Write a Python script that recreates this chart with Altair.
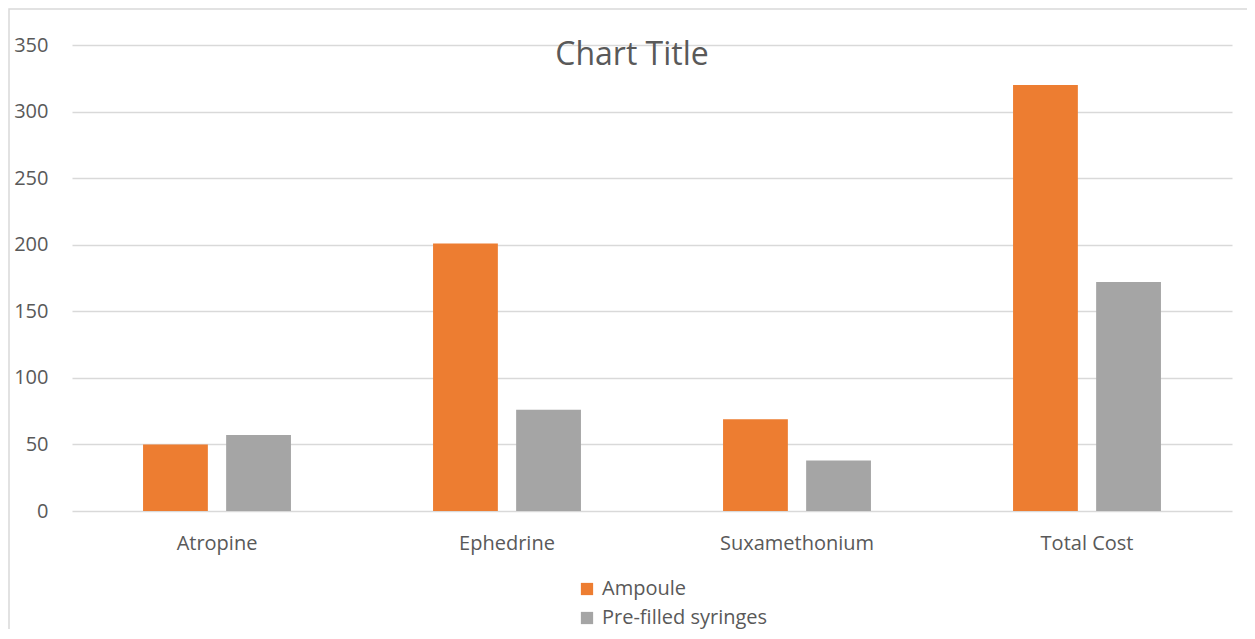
import altair as alt
import pandas as pd

categories = ["Atropine", "Ephedrine", "Suxamethonium", "Total Cost"]
series = ["Ampoule", "Pre-filled syringes"]
ampoule = [50, 201, 69, 320]
prefilled = [57, 76, 38, 172]
colors = ["#ED7D31", "#A5A5A5"]
y_ticks = [0, 50, 100, 150, 200, 250, 300, 350]
title_text = "Chart Title"

rows = []
for c, a, p in zip(categories, ampoule, prefilled):
    rows.append({"category": c, "series": series[0], "value": a})
    rows.append({"category": c, "series": series[1], "value": p})
df = pd.DataFrame(rows)

FONT = "Open Sans"
TXT = "#595959"
GRID = "#d9d9d9"

bars = alt.Chart(df).mark_bar().encode(
    x=alt.X("category:N", sort=categories,
            scale=alt.Scale(paddingInner=0.49, paddingOuter=0.245),
            axis=alt.Axis(title=None, labelAngle=0, ticks=False, tickSize=0,
                          domain=False, labelPadding=22, labelFontSize=20,
                          labelColor=TXT, labelFont=FONT, grid=False)),
    xOffset=alt.XOffset("series:N", sort=series,
                        scale=alt.Scale(paddingInner=0.22, paddingOuter=0)),
    y=alt.Y("value:Q", scale=alt.Scale(domain=[0, 350], nice=False),
            axis=alt.Axis(title=None, values=y_ticks, ticks=False, tickSize=0,
                          domain=False, labelPadding=24, labelFontSize=20,
                          labelColor=TXT, labelFont=FONT, grid=True,
                          gridColor=GRID, gridWidth=1.5)),
    color=alt.Color("series:N", sort=series,
                    scale=alt.Scale(domain=series, range=colors),
                    legend=alt.Legend(title=None, orient="none", legendX=505,
                                      legendY=534, direction="vertical",
                                      symbolType="square", symbolSize=150,
                                      symbolStrokeWidth=0, labelFontSize=20,
                                      labelFont=FONT, labelColor=TXT,
                                      labelOffset=5, rowPadding=9, padding=0,
                                      labelLimit=400)),
)

title_df = pd.DataFrame({"t": [title_text]})
title = alt.Chart(title_df).mark_text(
    font=FONT, fontSize=32, color=TXT, align="center", baseline="middle"
).encode(x=alt.value(560), y=alt.value(10), text="t:N")

border_df = pd.DataFrame({"b": [1]})
border = alt.Chart(border_df).mark_rect(
    fill="transparent", stroke=GRID, strokeWidth=1.5
).encode(x=alt.value(-63), x2=alt.value(1400), y=alt.value(-36), y2=alt.value(900))

chart = alt.layer(border, bars, title).properties(
    width=1160, height=466,
    background="white",
    autosize=alt.AutoSizeParams(type="none"),
    padding={"left": 64, "top": 37, "right": 15, "bottom": 118},
).configure_view(stroke="transparent", strokeWidth=0)

chart.save("out.html", embed_options={"renderer": "svg", "actions": False})
